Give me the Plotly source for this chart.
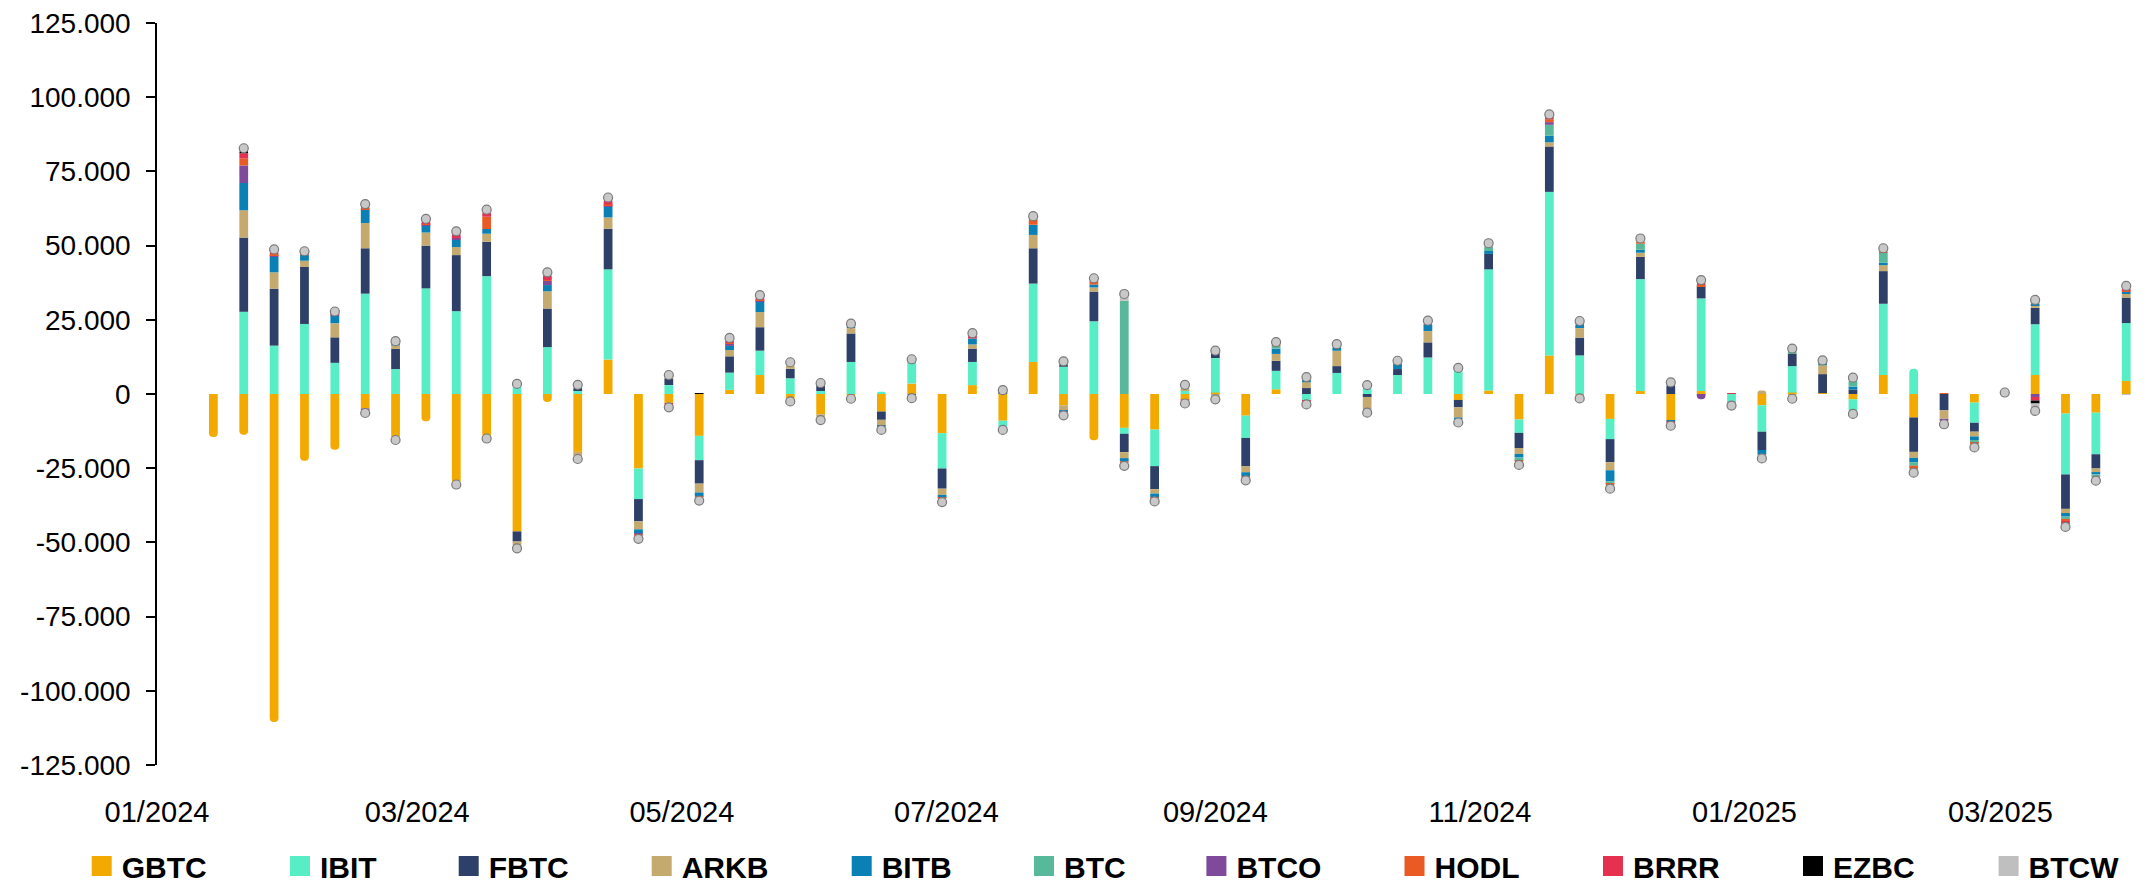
import plotly.graph_objects as go
import pandas as pd

# Weekly net flows (thousands of BTC), weeks starting 2024-01-14
weeks = pd.date_range("2024-01-14", periods=64, freq="7D")

GBTC = [-14.5, -13.7, -110.5, -22.5, -18.8, -4.9, -15.0, -9.2, -30.0, -14.5,
        -46.3, -2.7, -19.5, 11.6, -25.1, -3.0, -14.1, 1.4, 6.4, -2.0,
        -6.8, -1.2, -5.9, 3.5, -13.2, 3.0, -9.0, 10.8, -3.8, -15.6,
        -11.4, -12.0, -1.8, 0.5, -7.3, 1.6, 0.0, 0.0, 0.0, 0.0,
        0.0, -2.0, 1.2, -8.6, 13.0, -1.2, -8.4, 1.0, -8.9, 1.0,
        0.0, -3.8, 0.5, 0.3, -1.8, 6.4, -7.9, 0.0, -2.9, 0.0,
        6.4, -6.6, -6.3, 4.4]
IBIT = [0.0, 27.7, 16.3, 23.6, 10.5, 33.8, 8.4, 35.6, 27.9, 39.7,
        2.8, 15.8, 1.0, 30.4, -10.3, 3.0, -8.2, 5.8, 8.2, 5.3,
        1.0, 10.8, 0.8, 7.5, -11.9, 7.8, -2.3, 26.4, 9.2, 24.5,
        -2.0, -12.3, 1.0, 11.6, -7.5, 6.2, -2.0, 7.1, 2.5, 6.4,
        12.3, 7.8, 40.8, -4.5, 55.1, 13.0, -6.8, 37.7, 0.0, 31.2,
        -2.5, -8.9, 8.9, 0.0, -4.1, 24.0, 8.5, 0.0, -6.8, 0.2,
        17.1, -20.5, -14.0, 19.5]
FBTC = [0.0, 25.0, 19.2, 19.2, 8.6, 15.3, 6.8, 14.4, 18.9, 11.6,
        -3.4, 13.0, 1.5, 13.7, -7.5, 2.3, -7.9, 5.5, 7.9, 3.2,
        2.0, 9.6, -2.8, -0.8, -6.8, 4.5, 0.5, 11.9, 1.2, 10.0,
        -6.2, -7.8, 0.0, 1.8, -9.6, 3.4, 2.0, 2.3, -1.0, 2.0,
        5.1, -2.5, 5.2, -5.1, 15.3, 6.0, -7.8, 7.5, 3.0, 4.1,
        0.0, -6.2, 4.1, 6.4, 1.5, 11.0, -11.6, -5.5, -3.0, 0.0,
        5.5, -11.6, -4.8, 8.6]
ARKB = [0.0, 9.2, 5.5, 2.1, 4.7, 8.5, 1.1, 4.4, 2.7, 2.7,
        -1.2, 5.8, -2.0, 3.8, -2.7, 0.5, -3.0, 2.1, 5.1, 1.3,
        -1.5, 1.8, -2.0, -0.6, -2.1, 1.4, 0.0, 4.5, -1.6, 1.4,
        -2.0, -1.4, 0.8, -0.8, -2.0, 2.3, 2.0, 5.2, -4.0, 0.0,
        3.8, -3.4, 0.0, -2.0, 1.4, 3.2, -2.7, 1.4, 0.0, 0.0,
        0.0, 1.2, -1.0, 3.0, 0.0, 2.0, -2.0, -2.8, -1.6, 0.0,
        0.8, -1.4, -1.2, 1.2]
BITB = [0.0, 9.2, 5.2, 2.0, 2.7, 4.7, 0.8, 2.4, 2.7, 1.6,
        -0.5, 2.1, 0.3, 3.7, -1.4, 0.4, -1.4, 1.4, 3.7, 0.3,
        0.5, 1.0, -0.5, 0.0, -1.0, 2.0, -0.5, 3.4, -1.1, 1.0,
        -1.1, -1.4, 0.0, -1.0, -1.4, 1.8, 1.0, 1.1, -0.8, 2.0,
        2.3, -1.4, 1.0, -1.2, 2.2, 1.4, -3.7, 1.0, -0.4, 0.0,
        -0.8, -1.5, 0.0, 0.8, 1.0, 0.8, -1.5, 0.0, -1.2, 0.0,
        0.6, -1.2, -0.8, 0.8]
BTC = [0.0, 0.0, 0.0, 0.0, 0.0, 0.0, 0.0, 0.0, 0.0, 0.0,
       0.0, 0.0, 0.0, 0.0, 0.0, 0.0, 0.0, 0.0, 0.0, 0.0,
       0.0, 0.0, 0.0, 0.0, 0.0, 0.0, 0.0, 0.0, 0.0, 0.0,
       31.4, 0.0, 0.8, 0.4, 0.0, 1.0, 0.0, 0.0, 0.0, 0.0,
       0.0, 0.0, 1.4, -1.1, 3.7, 0.0, -0.8, 2.0, 0.7, 0.0,
       0.0, -0.5, 1.4, 0.0, 2.5, 3.4, -1.2, 0.0, -1.0, 0.0,
       0.5, -0.8, -0.8, 0.0]
BTCO = [0.0, 5.9, 0.4, 0.2, 0.2, -1.5, -0.5, 0.3, 0.3, -0.5,
        0.0, 1.4, 0.0, 0.3, -0.2, 0.0, 0.0, 0.7, 0.2, 0.0,
        0.0, 0.0, 0.0, 0.0, 0.0, 0.0, 0.0, 0.0, 0.4, 0.0,
        0.0, 0.0, 0.0, 0.0, 0.0, 0.0, 0.0, 0.0, 0.0, 0.0,
        0.0, 0.0, 0.0, 0.0, 0.9, 0.0, 0.0, 0.0, 0.0, -1.8,
        0.0, 0.0, 0.0, 0.0, 0.0, 0.0, 0.0, -0.7, 0.0, 0.0,
        -1.0, 0.0, 0.0, 0.0]
HODL = [0.0, 2.3, 0.6, 0.3, 0.3, 0.3, 0.2, 0.5, -0.5, 4.1,
        0.0, 0.3, 0.0, 0.3, -0.3, 0.0, -0.3, 0.3, 0.3, 0.0,
        0.0, 0.0, 0.0, 0.0, -0.5, 0.0, 0.0, 1.6, -0.7, 1.4,
        -1.0, -0.3, 0.0, 0.0, -0.4, 0.4, 0.5, 0.0, 0.0, 0.0,
        0.0, 1.0, 0.0, -0.5, 1.0, 0.0, -0.6, 0.7, 0.0, 0.4,
        0.0, 0.0, 0.0, 0.0, 0.0, 0.6, -1.0, 0.3, -0.6, 0.0,
        0.8, -0.7, 0.0, 0.3]
BRRR = [0.0, 1.8, 1.0, 0.3, 0.4, 0.8, 0.3, 0.6, 1.8, 1.8,
        -0.3, 1.6, 0.0, 2.0, -1.1, -1.5, -0.7, 1.4, 1.1, 0.4,
        0.0, 0.3, -0.6, 0.5, -0.6, 1.4, 0.0, 0.8, 0.0, 0.3,
        0.0, -0.7, -1.4, 0.0, -0.6, 0.6, -1.5, 0.8, 0.0, 0.6,
        1.0, 0.0, 0.9, -0.6, 0.8, 0.0, -0.8, 0.8, -1.4, 1.4,
        0.3, -0.5, 0.0, 0.6, 0.0, 0.6, -1.0, -0.7, -0.6, 0.0,
        -1.2, -0.7, -1.0, 0.8]
EZBC = [0.0, 1.4, 0.3, 0.2, 0.2, 0.4, 0.1, 0.6, 0.3, 0.4,
        0.6, 0.7, -0.4, 0.2, 0.0, 0.0, 0.3, 0.1, 0.2, -0.5,
        -0.5, -0.4, 0.0, 0.0, 0.0, 0.2, 0.8, 0.3, 0.0, 0.2,
        -0.5, 0.0, 0.0, 0.0, 0.0, 0.0, 0.0, 0.0, 0.5, 0.0,
        0.0, 0.0, 0.0, 0.0, 0.5, 1.0, 0.0, 0.0, 0.0, 0.0,
        0.0, 0.0, -0.6, 0.0, -0.8, 0.0, 0.0, 0.0, 0.0, 0.0,
        -1.0, -1.0, 0.0, 0.8]
BTCW = [0.0, 0.3, 0.2, 0.2, 0.2, 0.2, 0.1, 0.2, 0.2, 0.2,
        -0.3, 0.3, 0.3, 0.2, -0.2, 0.2, -0.3, 0.2, 0.2, 0.2,
        0.2, 0.2, -0.3, 0.2, -0.3, 0.2, -0.3, 0.2, 0.2, 0.2,
        2.3, -0.3, 0.5, 0.3, -0.3, 0.2, 0.2, 0.3, -0.5, 0.2,
        0.2, -0.3, 0.3, -0.3, 0.3, -0.3, -0.3, 0.3, 0.2, 0.3,
        -0.6, -0.3, 0.4, 0.2, 0.5, 0.3, -0.3, -0.5, -0.3, 0.3,
        -2.5, -0.3, -0.3, -0.3]

series_names = ["GBTC", "IBIT", "FBTC", "ARKB", "BITB", "BTC", "BTCO", "HODL", "BRRR", "EZBC", "BTCW"]
series_vals = [GBTC, IBIT, FBTC, ARKB, BITB, BTC, BTCO, HODL, BRRR, EZBC, BTCW]
colors = ["#F2AA00", "#57EDC5", "#2E4068", "#C4AA6E", "#0A80B4", "#58B89A",
          "#7F4A9A", "#E95A25", "#E5304F", "#000000", "#BFBFBF"]

y_tickvals = [125000, 100000, 75000, 50000, 25000, 0, -25000, -50000, -75000, -100000, -125000]
y_ticktext = ["125.000", "100.000", "75.000", "50.000", "25.000", "0",
              "-25.000", "-50.000", "-75.000", "-100.000", "-125.000"]

SCALE = 1000
FONT = "Liberation Sans, Arial, sans-serif"
W, H = 2147, 886
x_range = ["2024-01-01", "2025-04-03 19:00"]
# left edge (px) of each legend label's text
legend_text_px = [120.7, 319, 487.7, 680.7, 880.7, 1063, 1235.4, 1433.5, 1632, 1832, 2027.6]

fig = go.Figure()
for name, vals, col in zip(series_names, series_vals, colors):
    fig.add_trace(go.Bar(
        x=weeks, y=[v * SCALE for v in vals], name=name,
        marker=dict(color=col, line=dict(width=0)),
        width=1.75e8, showlegend=False,
    ))

# cap markers at the ends of stacks with several components
pos_x, pos_y, neg_x, neg_y = [], [], [], []
for i, d in enumerate(weeks):
    col_vals = [s[i] for s in series_vals]
    pos = [v for v in col_vals if v > 0]
    neg = [v for v in col_vals if v < 0]
    if len(pos) >= 2:
        pos_x.append(d); pos_y.append(sum(pos) * SCALE)
    if len(neg) >= 2:
        neg_x.append(d); neg_y.append(sum(neg) * SCALE)
fig.add_trace(go.Scatter(
    x=pos_x + neg_x, y=pos_y + neg_y, mode="markers", showlegend=False,
    marker=dict(size=9, color="#C8C8C8", line=dict(color="#7A7A7A", width=1.2)),
    hoverinfo="skip",
))

# legend entries (one legend per series, to reproduce the spacing)
legend_layouts = {}
for k, (name, col, tx) in enumerate(zip(series_names, colors, legend_text_px)):
    lname = "legend" if k == 0 else f"legend{k + 1}"
    fig.add_trace(go.Scatter(
        x=[None], y=[None], mode="markers", name=name, legend=lname,
        marker=dict(symbol="square", size=16, color=col,
                    line=dict(color=col, width=4)),
        showlegend=True, hoverinfo="skip",
    ))
    legend_layouts[lname] = dict(
        orientation="h", xref="container", yref="container",
        x=(tx - 39) / W, y=1 - 866 / H, xanchor="left", yanchor="middle",
        font=dict(size=30, family=FONT, color="black", weight="bold"),
        bgcolor="rgba(0,0,0,0)", itemclick=False, itemdoubleclick=False,
    )

fig.update_layout(
    width=W, height=H,
    margin=dict(l=157, r=0, t=23, b=121),
    barmode="relative",
    barcornerradius="50%",
    plot_bgcolor="white", paper_bgcolor="white",
    font=dict(family=FONT, color="black"),
    xaxis=dict(
        type="date", range=x_range, tick0="2024-01-01", dtick="M2",
        tickformat="%m/%Y", showgrid=False, zeroline=False, showline=False,
        ticks="", tickfont=dict(size=29, family=FONT, color="black"),
        ticklabelstandoff=27,
    ),
    xaxis2=dict(
        type="date", range=x_range, tick0="2024-01-01", dtick="M2",
        overlaying="x", anchor="free", position=0.5, side="bottom",
        showline=True, linecolor="black", linewidth=2,
        ticks="outside", ticklen=9, tickwidth=2, tickcolor="black",
        showticklabels=False, showgrid=False, zeroline=False,
    ),
    yaxis=dict(
        range=[-125000, 125000], tickvals=y_tickvals, ticktext=y_ticktext,
        showgrid=False, zeroline=False, showline=True, linecolor="black",
        linewidth=1.5, ticks="outside", ticklen=9, tickwidth=1.5, tickcolor="black",
        tickfont=dict(size=28, family=FONT, color="black"),
        ticklabelstandoff=10,
    ),
    showlegend=True,
    **legend_layouts,
)

fig.write_html("out.html", config={"displayModeBar": False},
               post_script="document.body.style.margin='0';")
